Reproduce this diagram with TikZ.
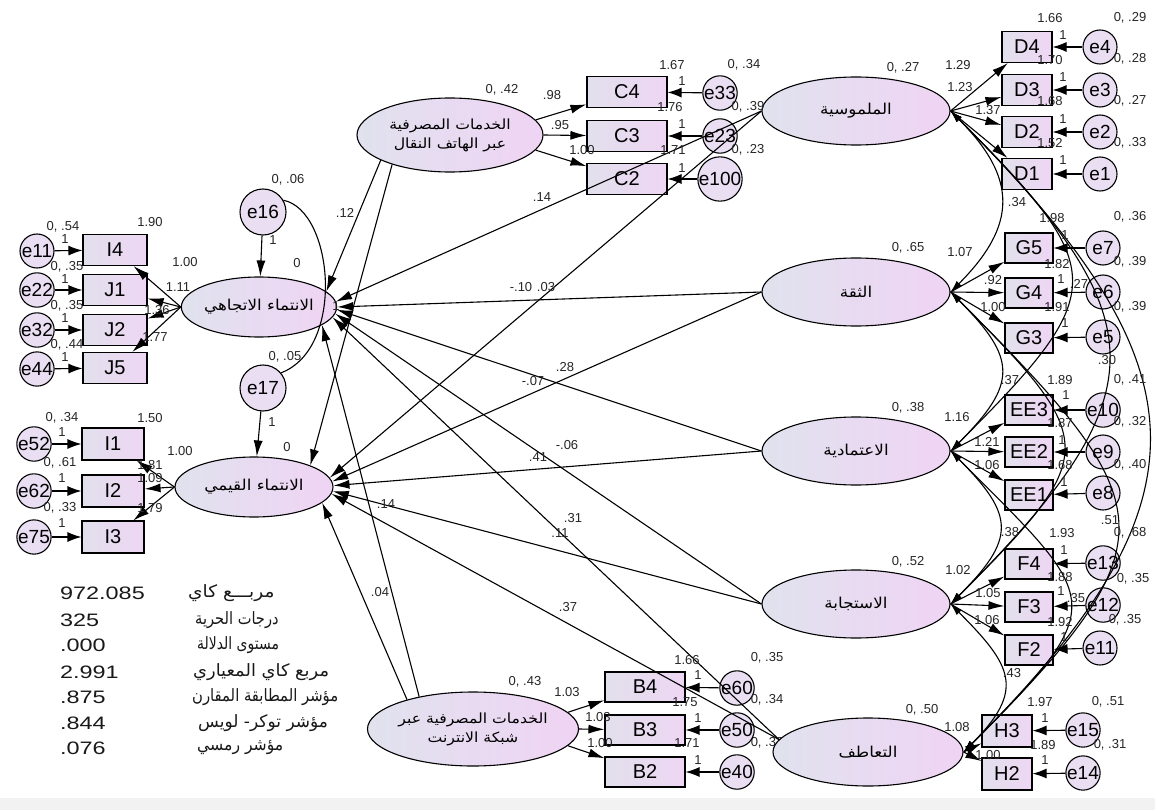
\documentclass[tikz,border=0pt]{standalone}
\usepackage{fontspec}
\setmainfont{Liberation Sans}
\newfontfamily\ar{DejaVu Sans}[Script=Arabic,FakeStretch=1.12]
\newfontfamily\arst{DejaVu Sans}[Script=Arabic]
\newfontfamily\statnum{Liberation Sans}[FakeStretch=1.3]
\usetikzlibrary{shapes.geometric,arrows.meta}
\TeXXeTstate=1
\definecolor{latL}{RGB}{224,226,238}
\definecolor{latR}{RGB}{240,212,244}
\definecolor{boxL}{RGB}{226,224,236}
\definecolor{boxR}{RGB}{238,214,244}
\definecolor{errC}{RGB}{234,222,242}
\newcounter{lbc}
\newcommand\plab[2]{\stepcounter{lbc}\node[lbl] (L\thelbc) at (#1) {#2};}
\tikzset{
 lat/.style={ellipse, draw, line width=1.1pt, left color=latL, right color=latR, inner sep=0pt, font=\ar\fontsize{15}{19}\selectfont, align=center},
 obs/.style={rectangle, draw, line width=1.1pt, left color=boxL, right color=boxR, inner sep=0pt, font=\fontsize{20}{20}\selectfont},
 err/.style={circle, draw, line width=1.1pt, fill=errC, inner sep=0pt, minimum size=34pt, font=\fontsize{19}{19}\selectfont},
 lbl/.style={inner sep=0pt, font=\fontsize{13}{13}\selectfont, text=black!85},
 pth/.style={line width=1.1pt, -{Latex[length=16pt,width=9pt]}},
 epth/.style={line width=1.1pt, -{Latex[length=14pt,width=10pt]}},
 cov/.style={line width=1.1pt, {Latex[length=12pt,width=7pt]}-{Latex[length=12pt,width=7pt]}},
 stn/.style={inner sep=0pt, anchor=west, font=\statnum\fontsize{18}{18}\selectfont, text=black!90},
 sta/.style={inner sep=0pt, anchor=west, font=\arst\fontsize{17}{19}\selectfont, text=black!90},
}
\begin{document}
\begin{tikzpicture}[x=1pt,y=-1pt]
\useasboundingbox (0,0) rectangle (1155,810);
\fill[white] (0,0) rectangle (1155,810);
\fill[black!5] (0,798) rectangle (1155,810);

% labels partly hidden under objects
\plab{767,743}{0, .32}
\plab{1133,579}{0, .35}

% ---------- left latent variables ----------
\node[lat, minimum width=152pt, minimum height=60pt] (A1) at (259,307) {\beginR الانتماء الاتجاهي\endR};
\node[lat, minimum width=158pt, minimum height=60pt] (A2) at (254,487) {\beginR الانتماء القيمي\endR};
\node[err, minimum size=46pt] (e16) at (263,212) {e16};
\node[err, minimum size=46pt] (e17) at (263,388) {e17};
\foreach \n/\y in {I4/250, J1/290, J2/330, J5/368}
  \node[obs, minimum width=64pt, minimum height=31pt] (\n) at (115,\y) {\n};
\foreach \n/\y in {e11/251, e22/290, e32/330, e44/369}
  \node[err] (\n) at (37,\y) {\n};
\foreach \n/\y in {I1/444, I2/491, I3/537}
  \node[obs, minimum width=62pt, minimum height=32pt] (\n) at (113,\y) {\n};
\foreach \n/\y in {e52/444, e62/491, e75/537}
  \node[err] (\n) at (34,\y) {\n};

% ---------- top middle ----------
\node[lat, minimum width=186pt, minimum height=74pt, font=\ar\fontsize{14}{19}\selectfont] (MB) at (450,135)
  {\beginR الخدمات المصرفية\endR\\\beginR عبر الهاتف النقال\endR};
\foreach \n/\y in {C4/92, C3/136, C2/179}
  \node[obs, minimum width=80pt, minimum height=31pt] (\n) at (627,\y) {\n};
\foreach \n/\y in {e33/93, e23/136, e100/179}
  \node[err] (\n) at (720,\y) {\n};

% ---------- bottom middle ----------
\node[lat, minimum width=184pt, minimum height=74pt, font=\ar\fontsize{14}{19}\selectfont] (IB) at (473,729)
  {\beginR الخدمات المصرفية عبر\endR\\\beginR شبكة الانترنت\endR};
\foreach \n/\y in {B4/687, B3/730, B2/772}
  \node[obs, minimum width=80pt, minimum height=30pt] (\n) at (645,\y) {\n};
\foreach \n/\y in {e60/688, e50/730, e40/772}
  \node[err] (\n) at (737,\y) {\n};

% ---------- right latent variables ----------
\node[lat, minimum width=188pt, minimum height=68pt] (T) at (856,111) {\beginR الملموسية\endR};
\node[lat, minimum width=188pt, minimum height=68pt] (G) at (856,292) {\beginR الثقة\endR};
\node[lat, minimum width=188pt, minimum height=68pt] (R) at (856,451) {\beginR الاعتمادية\endR};
\node[lat, minimum width=188pt, minimum height=68pt] (S) at (856,604) {\beginR الاستجابة\endR};
\node[lat, minimum width=190pt, minimum height=68pt] (E) at (868,752) {\beginR التعاطف\endR};
\foreach \n/\y in {D4/47, D3/90, D2/132, D1/174}
  \node[obs, minimum width=50pt, minimum height=31pt] (\n) at (1027,\y) {\n};
\foreach \n/\y in {e4/47, e3/90, e2/132, e1/174}
  \node[err] (\n) at (1100,\y) {\n};
\foreach \n/\y in {G5/248, G4/293, G3/338, EE3/410, EE2/452, EE1/495, F4/564, F3/607, F2/650}
  \node[obs, minimum width=48pt, minimum height=30pt] (\n) at (1029,\y) {\n};
\foreach \n/\y in {e7/248, e6/292, e5/337, e10/410, e9/452, e8/493, e13/563, e12/605}
  \node[err] (\n) at (1103,\y) {\n};
\node[err] (ee11) at (1100,648) {e11};
\node[obs, minimum width=50pt, minimum height=32pt] (H3) at (1007,731) {H3};
\node[obs, minimum width=50pt, minimum height=32pt] (H2) at (1007,774) {H2};
\node[err] (e15) at (1083,730) {e15};
\node[err] (e14) at (1083,773) {e14};

% ---------- measurement paths ----------
\foreach \b in {I4,J1,J2,J5} \draw[pth] (A1.west) -- (\b);
\foreach \b in {I1,I2,I3} \draw[pth] (A2.west) -- (\b);
\foreach \e/\b in {e11/I4,e22/J1,e32/J2,e44/J5,e52/I1,e62/I2,e75/I3}
  \draw[epth] (\e) -- (\b);
\draw[pth] (e16) -- (A1);
\draw[pth] (e17) -- (A2);
\draw[line width=1.1pt] (e16.30) .. controls +(50,10) and +(65,-25) .. (e17.40);
\draw[pth] (MB.10) -- (C4);
\draw[pth] (MB.east) -- (C3);
\draw[pth] (MB.-10) -- (C2);
\draw[pth] (IB.10) -- (B4);
\draw[pth] (IB.east) -- (B3);
\draw[pth] (IB.-10) -- (B2);
\foreach \e/\b in {e33/C4,e23/C3,e100/C2,e60/B4,e50/B3,e40/B2,
  e4/D4,e3/D3,e2/D2,e1/D1,e7/G5,e6/G4,e5/G3,e10/EE3,e9/EE2,e8/EE1,
  e13/F4,e12/F3,ee11/F2,e15/H3,e14/H2}
  \draw[epth] (\e) -- (\b);
\foreach \b in {D4,D3,D2,D1} \draw[pth] (T.east) -- (\b);
\foreach \b in {G5,G4,G3} \draw[pth] (G.east) -- (\b);
\foreach \b in {EE3,EE2,EE1} \draw[pth] (R.east) -- (\b);
\foreach \b in {F4,F3,F2} \draw[pth] (S.east) -- (\b);
\foreach \b in {H3,H2} \draw[pth] (E.east) -- (\b);

% ---------- structural paths ----------
\draw[pth] (MB.200) -- (A1.13);
\draw[pth] (MB.207) -- (A2.21);
\draw[pth] (IB.149) -- (A1.-16);
\draw[pth] (IB.156) -- (A2.-13);
\draw[pth] (T.west) -- (A1.4);
\draw[pth] (T.west) -- (A2.7);
\draw[pth] (G.west) -- (A1.east);
\draw[pth] (G.west) -- (A2.4);
\draw[pth] (R.west) -- (A1.-2);
\draw[pth] (R.west) -- (A2.1);
\draw[pth] (S.west) -- (A1.-5);
\draw[pth] (S.west) -- (A2.-3);
\draw[pth] (E.172) -- (A1.-8);
\draw[pth] (E.172) -- (A2.-5);

% ---------- covariances ----------
\draw[cov] (T.east) .. controls +(67,67) and +(67,-67) .. (G.east);
\draw[cov] (G.east) .. controls +(67,67) and +(67,-67) .. (R.east);
\draw[cov] (R.east) .. controls +(65,65) and +(65,-65) .. (S.east);
\draw[cov] (S.east) .. controls +(62,62) and +(62,-62) .. (E.east);
\draw[cov] (T.east) .. controls +(160,160) and +(160,-160) .. (R.east);
\draw[cov] (G.east) .. controls +(150,150) and +(150,-150) .. (S.east);
\draw[cov] (R.east) .. controls +(150,150) and +(150,-150) .. (E.east);
\draw[cov] (T.east) .. controls +(210,210) and +(210,-210) .. (S.east);
\draw[cov] (G.east) .. controls +(213,213) and +(213,-213) .. (E.east);
\draw[cov] (T.east) .. controls +(255,255) and +(255,-255) .. (E.east);

% ---------- labels: left ----------
\plab{63,227}{0, .54}
\plab{150,222}{1.90}
\plab{65,239}{1}
\plab{185,262}{1.00}
\plab{67,267}{0, .35}
\plab{65,279}{1}
\plab{178,287}{1.11}
\plab{67,306}{0, .35}
\plab{65,318}{1}
\plab{157,310}{1.36}
\plab{67,345}{0, .44}
\plab{65,357}{1}
\plab{155,337}{1.77}
\plab{62,418}{0, .34}
\plab{150,418}{1.50}
\plab{62,432}{1}
\plab{180,451}{1.00}
\plab{60,463}{0, .61}
\plab{150,465}{1.81}
\plab{150,478}{1.09}
\plab{62,478}{1}
\plab{60,508}{0, .33}
\plab{150,508}{1.79}
\plab{62,523}{1}
\plab{288,180}{0, .06}
\plab{273,240}{1}
\plab{297,263}{0}
\plab{285,357}{0, .05}
\plab{272,422}{1}
\plab{287,447}{0}
\plab{336,306}{1}
% structural
\plab{345,213}{.12}
\plab{542,197}{.14}
\plab{521,287}{-.10}
\plab{546,287}{.03}
\plab{565,367}{.28}
\plab{533,381}{-.07}
\plab{567,445}{-.06}
\plab{538,457}{.41}
\plab{386,504}{.14}
\plab{573,518}{.31}
\plab{560,533}{.11}
\plab{380,592}{.04}
\plab{568,607}{.37}
% top middle
\plab{502,90}{0, .42}
\plab{672,65}{1.67}
\plab{744,65}{0, .34}
\plab{682,81}{1}
\plab{552,95}{.98}
\plab{670,107}{1.76}
\plab{748,107}{0, .39}
\plab{682,124}{1}
\plab{560,125}{.95}
\plab{582,150}{1.00}
\plab{673,150}{1.71}
\plab{748,150}{0, .23}
\plab{682,168}{1}
% right
\plab{903,68}{0, .27}
\plab{958,65}{1.29}
\plab{960,87}{1.23}
\plab{988,110}{1.37}
\plab{1050,18}{1.66}
\plab{1130,18}{0, .29}
\plab{1063,35}{1}
\plab{1050,60}{1.70}
\plab{1130,59}{0, .28}
\plab{1063,77}{1}
\plab{1050,101}{1.68}
\plab{1130,101}{0, .27}
\plab{1063,119}{1}
\plab{1050,143}{1.52}
\plab{1130,143}{0, .33}
\plab{1063,160}{1}
\plab{1017,202}{.34}
\plab{908,248}{0, .65}
\plab{960,252}{1.07}
\plab{1052,218}{1.98}
\plab{1130,217}{0, .36}
\plab{1065,235}{1}
\plab{993,280}{.92}
\plab{1057,264}{1.82}
\plab{1130,262}{0, .39}
\plab{1061,279}{1}
\plab{1079,284}{.27}
\plab{993,307}{1.00}
\plab{1057,307}{1.91}
\plab{1130,307}{0, .39}
\plab{1065,323}{1}
\plab{1107,360}{.30}
\plab{1010,380}{.37}
\plab{1060,380}{1.89}
\plab{1130,380}{0, .41}
\plab{1066,395}{1}
\plab{908,408}{0, .38}
\plab{957,417}{1.16}
\plab{987,442}{1.21}
\plab{1060,423}{1.87}
\plab{1130,422}{0, .32}
\plab{1062,440}{1}
\plab{987,465}{1.06}
\plab{1060,465}{1.68}
\plab{1130,465}{0, .40}
\plab{1064,482}{1}
\plab{1110,520}{.51}
\plab{1010,532}{.38}
\plab{1062,533}{1.93}
\plab{1130,533}{0, .68}
\plab{1064,550}{1}
\plab{908,562}{0, .52}
\plab{958,570}{1.02}
\plab{1060,577}{1.88}
\plab{1061,591}{1}
\plab{1076,598}{.35}
\plab{988,593}{1.05}
\plab{987,620}{1.06}
\plab{1060,622}{1.92}
\plab{1125,620}{0, .35}
\plab{1064,637}{1}
\plab{1012,673}{.43}
\plab{922,710}{0, .50}
\plab{957,727}{1.08}
\plab{1040,702}{1.97}
\plab{1108,702}{0, .51}
\plab{1045,718}{1}
\plab{1043,745}{1.89}
\plab{1110,745}{0, .31}
\plab{988,755}{1.00}
\plab{1045,760}{1}
% bottom middle
\plab{525,682}{0, .43}
\plab{567,692}{1.03}
\plab{598,717}{1.03}
\plab{600,743}{1.00}
\plab{687,660}{1.66}
\plab{698,675}{1}
\plab{767,658}{0, .35}
\plab{685,702}{1.75}
\plab{698,718}{1}
\plab{767,700}{0, .34}
\plab{687,743}{1.71}
\plab{698,760}{1}

% ---------- fit statistics ----------
\node[stn] (s1) at (60,593) {972.085};
\node[stn] (s2) at (60,620) {325};
\node[stn] (s3) at (60,645) {.000};
\node[stn] (s4) at (60,672) {2.991};
\node[stn] (s5) at (60,697) {.875};
\node[stn] (s6) at (60,723) {.844};
\node[stn] (s7) at (60,748) {.076};
\node[sta] (t1) at (188,593) {\scalebox{1.09}[1]{\beginR مربـــع كاي\endR}};
\node[sta] (t2) at (195,620) {\scalebox{0.86}[1]{\beginR درجات الحرية\endR}};
\node[sta] (t3) at (197,645) {\scalebox{0.82}[1]{\beginR مستوى الدلالة\endR}};
\node[sta] (t4) at (193,672) {\scalebox{1.05}[1]{\beginR مربع كاي المعياري\endR}};
\node[sta] (t5) at (192,697) {\scalebox{0.87}[1]{\beginR مؤشر المطابقة المقارن\endR}};
\node[sta] (t6) at (198,723) {\scalebox{1.0}[1]{\beginR مؤشر توكر- لويس\endR}};
\node[sta] (t7) at (197,748) {\scalebox{0.92}[1]{\beginR مؤشر رمسي\endR}};
\end{tikzpicture}
\end{document}
